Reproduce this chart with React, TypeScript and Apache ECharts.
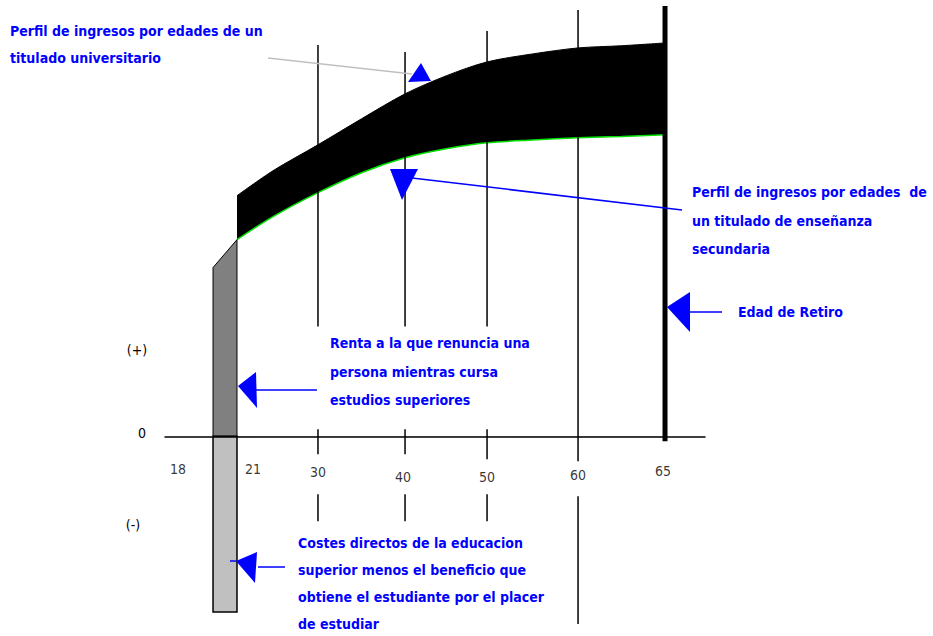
import React, { useEffect, useRef } from "react";
import * as echarts from "echarts";

// ---- axis (schematic spacing of the age axis, as in the original figure) ----
const ageKnots = [18, 21, 30, 40, 50, 60, 65];
const slotKnots = [-0.28, 0, 0.946, 1.963, 2.921, 3.984, 5];
const tickLabels = ["18", "21", "30", "40", "50", "60", "65"];

// ---- data ----
const curveAges = [21, 25, 30, 35, 40, 45, 50, 55, 60, 62.5, 65];
const universityIncome = [60.25, 66.5, 73, 79.5, 85.75, 90.25, 93.75, 95.75, 97.25, 97.8, 98.5];
const secondaryIncome = [49.25, 55, 61, 66, 69.75, 72, 73.5, 74.2, 74.75, 75.1, 75.5];
const studyAges = [18, 21];
const forgoneIncome = [42.25, 49.25];
const directCost = -44;
const retirementAge = 65;
const retirementLine = [107.75, -1.25];
const guideAges = [30, 40, 50, 60];
const guideSegments = [
  [[98, 27.5], [1.75, -4.5], [-14.5, -21.25]],
  [[96.25, 27.5], [1.75, -4.5], [-14.5, -21.25]],
  [[101.5, 27.5], [1.75, -5.75], [-14.5, -21.25]],
  [[106.75, -6.25], [-15, -47]],
];

function slot(age: number): number {
  for (let i = 0; i < ageKnots.length - 1; i++) {
    if (age <= ageKnots[i + 1]) {
      const t = (age - ageKnots[i]) / (ageKnots[i + 1] - ageKnots[i]);
      return slotKnots[i] + t * (slotKnots[i + 1] - slotKnots[i]);
    }
  }
  return slotKnots[slotKnots.length - 1];
}

const FONT = "'DejaVu Sans Condensed', 'DejaVu Sans', sans-serif";
const BLUE = "#0000ff";

export default function App() {
  const ref = useRef<HTMLDivElement>(null);
  useEffect(() => {
    if (!ref.current) return;
    const chart = echarts.init(ref.current, null, { renderer: "svg" });

    const guideData: number[][] = [];
    guideAges.forEach((a, i) => {
      guideSegments[i].forEach((s) => guideData.push([slot(a), s[0], s[1], 1.5]));
    });
    guideData.push([slot(retirementAge), retirementLine[0], retirementLine[1], 5]);

    const labelOffsets = [
      [-35, 33], [16, 33], [0, 36], [-2, 41], [0, 41], [0, 39], [-2, 35],
    ];

    const textBase = {
      fill: BLUE,
      fontFamily: FONT,
      fontWeight: "bold",
      fontSize: 14,
      verticalAlign: "top",
    };
    const g = (el: any) => ({ z: 100, ...el });

    const option: any = {
      animation: false,
      grid: { left: 165, top: 5, width: 540, height: 632 },
      xAxis: {
        type: "value",
        min: -0.841,
        max: 5.467,
        z: 10,
        axisLine: { onZero: true, lineStyle: { color: "#000", width: 1.5 } },
        axisTick: { show: false },
        axisLabel: { show: false },
        splitLine: { show: false },
      },
      yAxis: {
        type: "value",
        min: -50,
        max: 108,
        show: false,
        splitLine: { show: false },
      },
      series: [
        {
          name: "universitario",
          type: "line",
          smooth: 0.3,
          symbol: "none",
          z: 2,
          lineStyle: { color: "#000", width: 1 },
          areaStyle: { color: "#000", opacity: 1 },
          data: curveAges.map((a, i) => [slot(a), universityIncome[i]]),
        },
        {
          name: "secundaria",
          type: "line",
          smooth: 0.3,
          symbol: "none",
          z: 3,
          lineStyle: { color: "#00e000", width: 1.5 },
          areaStyle: { color: "#fff", opacity: 1 },
          data: curveAges.map((a, i) => [slot(a), secondaryIncome[i]]),
        },
        {
          type: "custom",
          z: 4,
          renderItem: (params: any, api: any) => {
            const x0 = slot(studyAges[0]);
            const x1 = slot(studyAges[1]);
            const a = api.coord([x0, 0]);
            const b = api.coord([x0, forgoneIncome[0]]);
            const c = api.coord([x1, forgoneIncome[1]]);
            const d = api.coord([x1, 0]);
            const e = api.coord([x1, directCost]);
            return {
              type: "group",
              children: [
                {
                  type: "polygon",
                  shape: { points: [a, b, c, d] },
                  style: { fill: "#808080", stroke: "#000", lineWidth: 1 },
                },
                {
                  type: "rect",
                  shape: { x: a[0], y: a[1], width: d[0] - a[0], height: e[1] - a[1] },
                  style: { fill: "#c0c0c0", stroke: "#000", lineWidth: 1.5 },
                },
              ],
            };
          },
          data: [[0]],
        },
        {
          type: "custom",
          z: 5,
          renderItem: (params: any, api: any) => {
            const p1 = api.coord([api.value(0), api.value(1)]);
            const p2 = api.coord([api.value(0), api.value(2)]);
            return {
              type: "line",
              shape: { x1: p1[0], y1: p1[1], x2: p2[0], y2: p2[1] },
              style: { stroke: "#000", lineWidth: api.value(3) },
            };
          },
          data: guideData,
        },
        {
          type: "scatter",
          symbolSize: 0,
          z: 6,
          label: {
            show: true,
            position: "inside",
            formatter: "{b}",
            color: "#000",
            fontFamily: FONT,
            fontSize: 14,
          },
          data: ageKnots.map((a, i) => ({
            name: tickLabels[i],
            value: [slot(a), 0],
            label: { offset: labelOffsets[i] },
          })),
        },
      ],
      graphic: [
        // labels on vertical axis
        g({ type: "text", style: { ...textBase, fill: "#000", fontWeight: "normal", text: "(+)", x: 137, y: 350, align: "center", verticalAlign: "middle" } }),
        g({ type: "text", style: { ...textBase, fill: "#000", fontWeight: "normal", text: "0", x: 142, y: 433, align: "center", verticalAlign: "middle" } }),
        g({ type: "text", style: { ...textBase, fill: "#000", fontWeight: "normal", text: "(-)", x: 133, y: 525, align: "center", verticalAlign: "middle" } }),

        // university profile annotation
        g({ type: "text", style: { ...textBase, text: "Perfil de ingresos por edades de un\ntitulado universitario", x: 10, y: 17, lineHeight: 27 } }),
        g({ type: "line", shape: { x1: 268, y1: 58, x2: 412, y2: 74 }, style: { stroke: "#c0c0c0", lineWidth: 1.5 } }),
        g({ type: "polygon", shape: { points: [[421, 63], [408, 82], [431, 81]] }, style: { fill: BLUE } }),

        // secondary profile annotation
        g({ type: "polygon", shape: { points: [[390, 169], [418, 169], [402, 200]] }, style: { fill: BLUE } }),
        g({ type: "line", shape: { x1: 412, y1: 178, x2: 682, y2: 210 }, style: { stroke: BLUE, lineWidth: 1.5 } }),
        g({ type: "text", style: { ...textBase, text: "Perfil de ingresos por edades  de\nun titulado de enseñanza\nsecundaria", x: 692, y: 178, lineHeight: 28.5 } }),

        // retirement
        g({ type: "polygon", shape: { points: [[667, 307], [690, 292], [690, 332]] }, style: { fill: BLUE } }),
        g({ type: "line", shape: { x1: 688, y1: 312, x2: 722, y2: 312 }, style: { stroke: BLUE, lineWidth: 1.5 } }),
        g({ type: "text", style: { ...textBase, text: "Edad de Retiro", x: 738, y: 312, verticalAlign: "middle" } }),

        // forgone income
        g({ type: "polygon", shape: { points: [[238, 386], [256, 372], [257, 408]] }, style: { fill: BLUE } }),
        g({ type: "line", shape: { x1: 255, y1: 390, x2: 317, y2: 390 }, style: { stroke: BLUE, lineWidth: 1.5 } }),
        g({ type: "text", style: { ...textBase, text: "Renta a la que renuncia una\npersona mientras cursa\nestudios superiores", x: 330, y: 329, lineHeight: 28.5 } }),

        // direct costs
        g({ type: "polygon", shape: { points: [[236, 561], [257, 552], [255, 583]] }, style: { fill: BLUE } }),
        g({ type: "line", shape: { x1: 230, y1: 561, x2: 236, y2: 561 }, style: { stroke: BLUE, lineWidth: 1.5 } }),
        g({ type: "line", shape: { x1: 258, y1: 567, x2: 285, y2: 567 }, style: { stroke: BLUE, lineWidth: 1.5 } }),
        g({ type: "text", style: { ...textBase, text: "Costes directos de la educacion\nsuperior menos el beneficio que\nobtiene el estudiante por el placer\nde estudiar", x: 298, y: 529.5, lineHeight: 27 } }),
      ],
    };

    chart.setOption(option);
    return () => chart.dispose();
  }, []);

  return (
    <div
      ref={ref}
      style={{ position: "fixed", left: 0, top: 0, width: 933, height: 636, background: "#fff" }}
    />
  );
}
